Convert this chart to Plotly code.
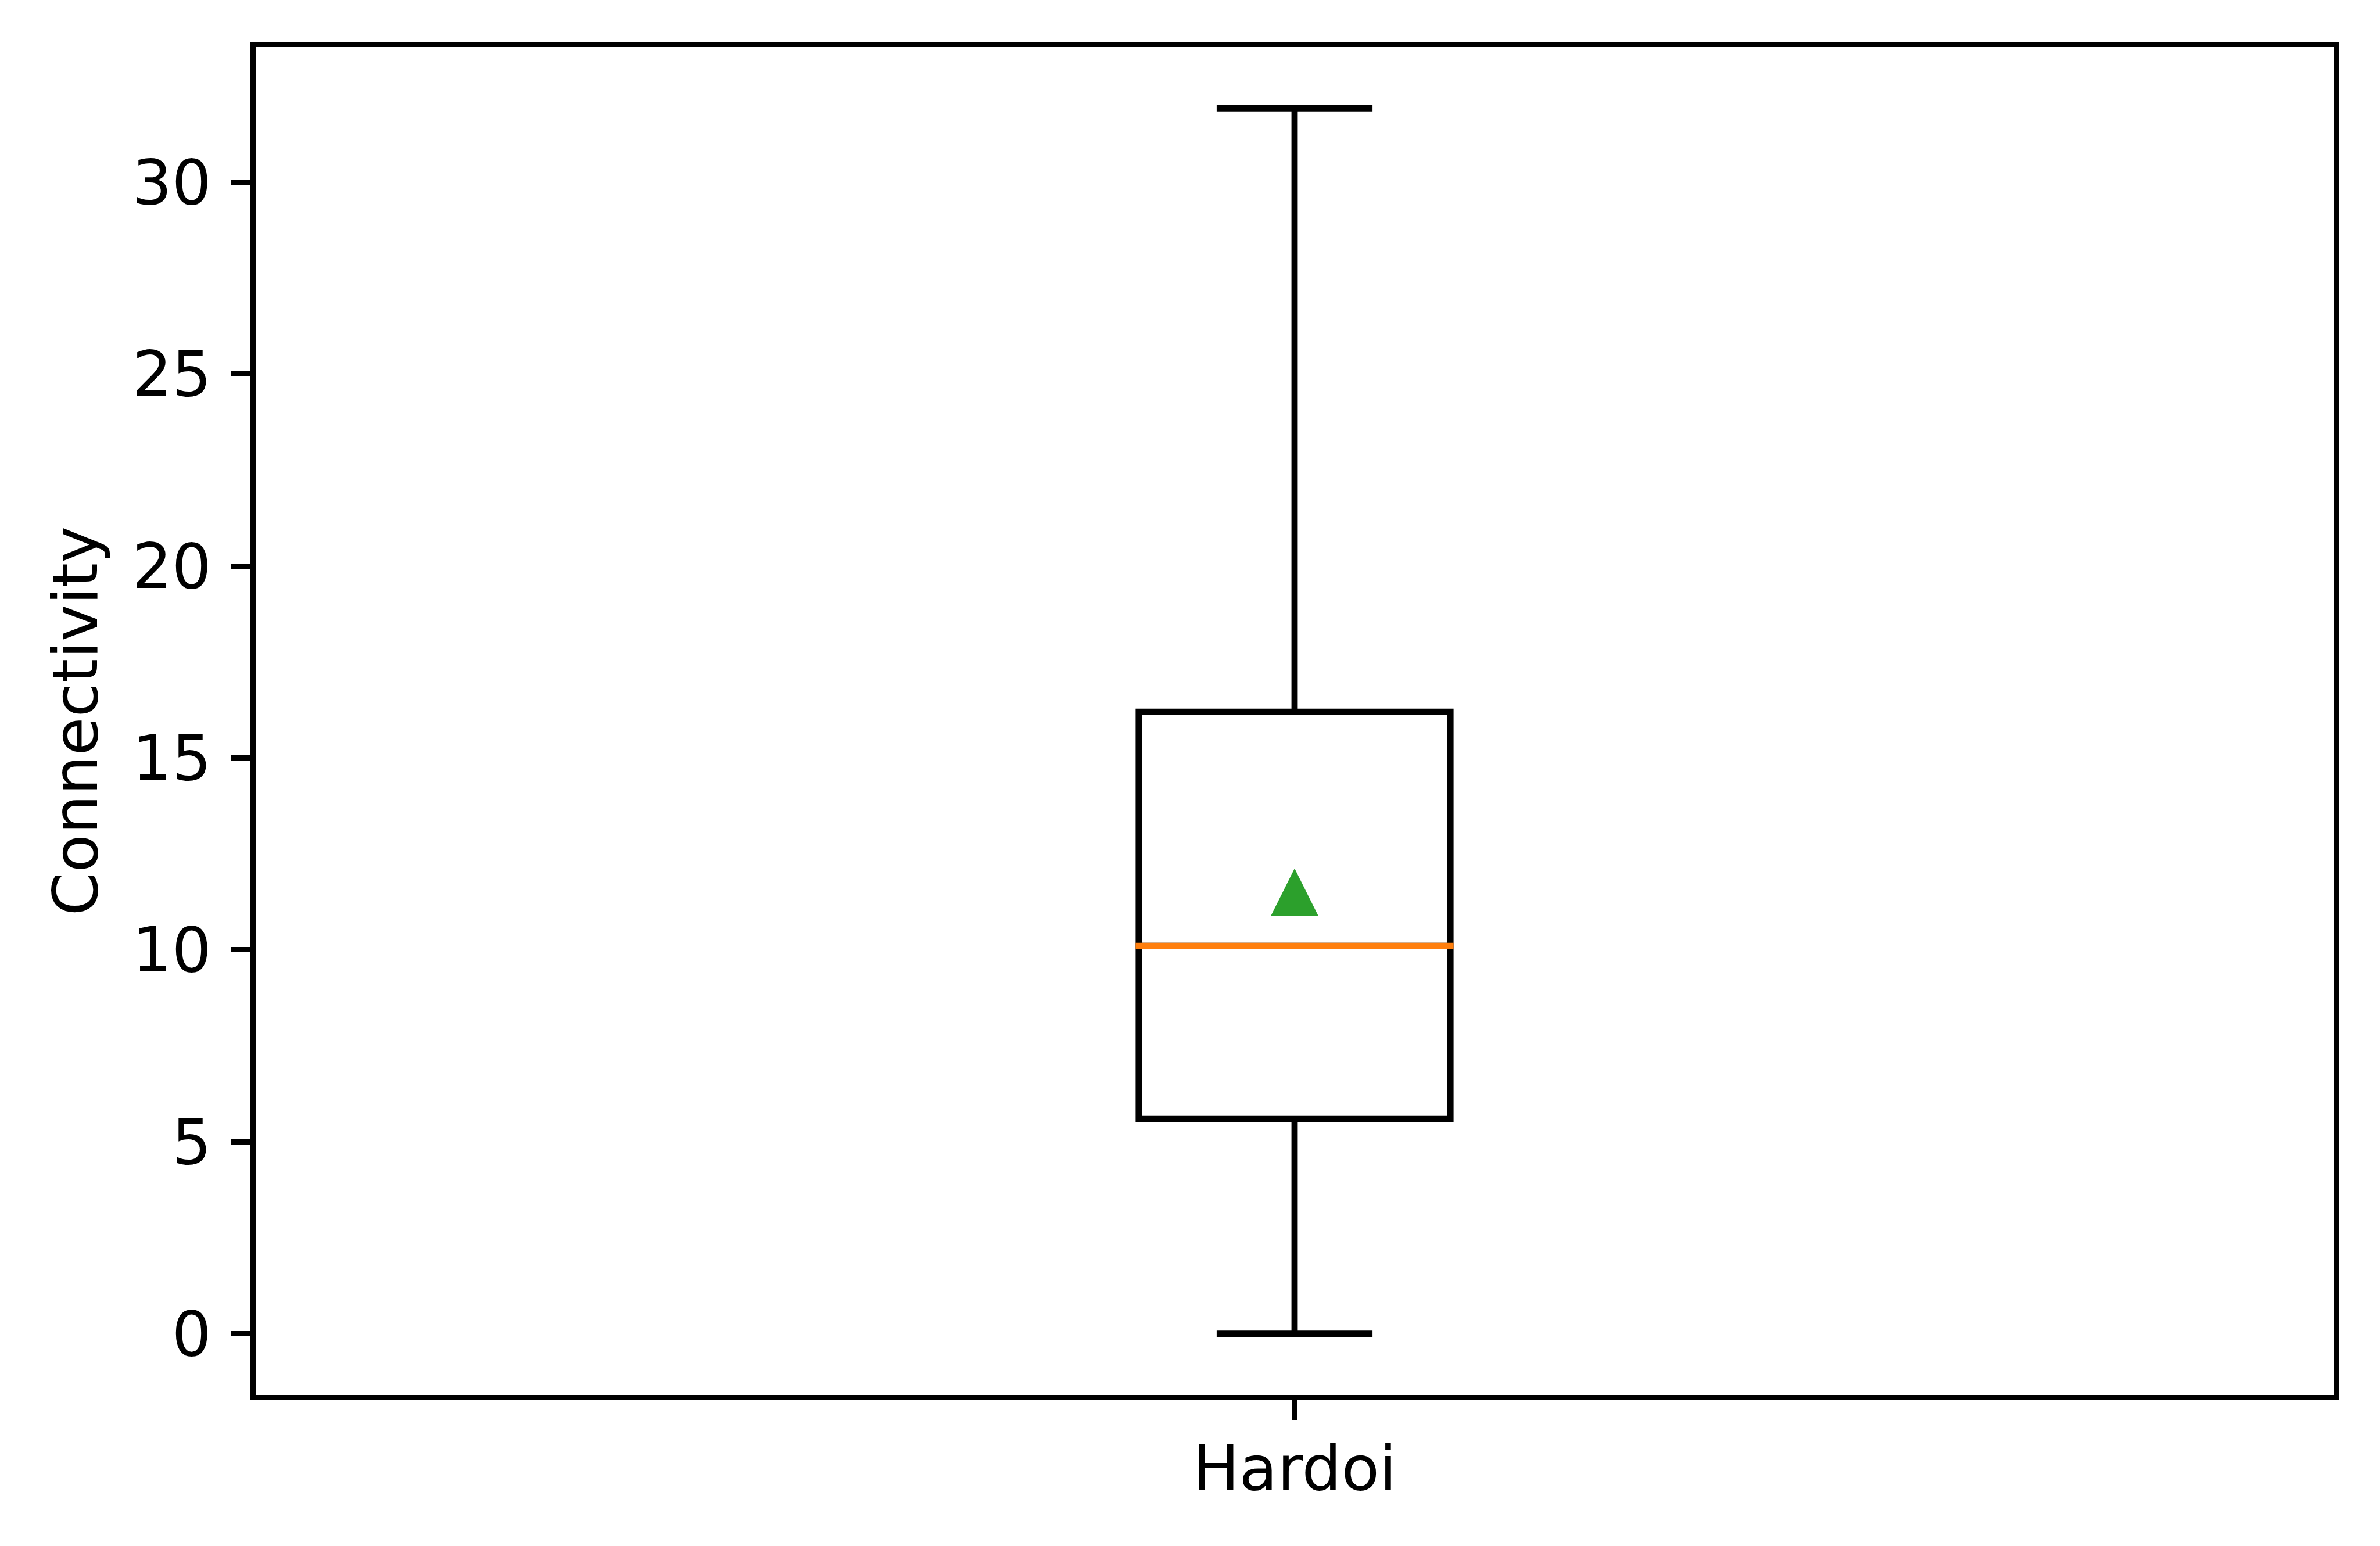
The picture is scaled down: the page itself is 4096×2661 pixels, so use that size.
import plotly.graph_objects as go

# ---- data ----
categories = ["Hardoi"]
positions = [1]
q1_vals = [5.59]
median_vals = [10.10]
q3_vals = [16.20]
lower_whisker = [0.0]
upper_whisker = [31.92]
mean_vals = [11.50]
y_ticks = [0, 5, 10, 15, 20, 25, 30]

# ---- layout constants (target pixels) ----
W, H = 4096, 2661
M_L, M_R, M_T, M_B = 440, 80, 81, 260
PLOT_W = W - M_L - M_R
FONT = "DejaVu Sans"
FS = 107
BOX_LW = 10.8
AX_LW = 8.5
BOX_WIDTH = 0.15
X_RANGE = [0.5, 1.5]

lo = min(lower_whisker)
hi = max(upper_whisker)
pad = 0.05 * (hi - lo)
Y_RANGE = [lo - pad, hi + pad]

fig = go.Figure()

fig.add_trace(go.Box(
    x=positions,
    q1=q1_vals,
    median=median_vals,
    q3=q3_vals,
    lowerfence=lower_whisker,
    upperfence=upper_whisker,
    width=BOX_WIDTH,
    whiskerwidth=0.5,
    boxpoints=False,
    line=dict(color="black", width=BOX_LW),
    fillcolor="rgba(0,0,0,0)",
    showlegend=False,
    hoverinfo="skip",
))

# orange median line (extends over the box edges like matplotlib's projecting caps)
ext = BOX_WIDTH / 2 + (BOX_LW / 2) / PLOT_W * (X_RANGE[1] - X_RANGE[0])
for p, m in zip(positions, median_vals):
    fig.add_trace(go.Scatter(
        x=[p - ext, p + ext],
        y=[m, m],
        mode="lines",
        line=dict(color="#ff7f0e", width=BOX_LW),
        showlegend=False,
        hoverinfo="skip",
    ))

# green mean triangle (equal width/height like matplotlib '^')
MS = 82
fig.add_trace(go.Scatter(
    x=positions,
    y=mean_vals,
    mode="markers",
    marker=dict(symbol="arrow-down", angle=180, standoff=MS / 2, size=MS,
                color="#2ca02c", line=dict(width=0)),
    showlegend=False,
    hoverinfo="skip",
))

axis_common = dict(
    showline=True, mirror=True, linecolor="black", linewidth=AX_LW,
    ticks="outside", ticklen=34, tickwidth=AX_LW, tickcolor="black",
    showgrid=False, zeroline=False,
    tickfont=dict(family=FONT, size=FS, color="black"),
)

fig.update_layout(
    width=W, height=H,
    margin=dict(l=M_L, r=M_R, t=M_T, b=M_B, autoexpand=False),
    paper_bgcolor="white", plot_bgcolor="white",
    font=dict(family=FONT, size=FS, color="black"),
    xaxis=dict(range=X_RANGE, tickmode="array", tickvals=positions,
               ticktext=categories, ticklabelstandoff=-8, **axis_common),
    yaxis=dict(range=Y_RANGE, tickmode="array", tickvals=y_ticks,
               ticktext=[str(v) for v in y_ticks], ticklabelstandoff=12,
               title=dict(text="Connectivity", font=dict(family=FONT, size=FS, color="black"),
                          standoff=28),
               **axis_common),
)

fig.write_html("out.html")
